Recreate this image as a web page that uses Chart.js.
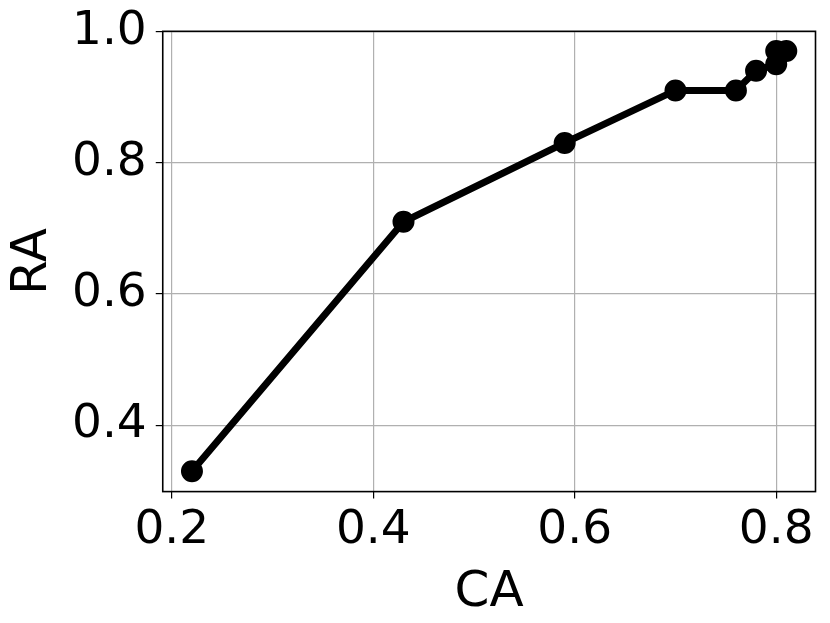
<!DOCTYPE html>
<html>
<head>
<meta charset="utf-8">
<script src="https://cdn.jsdelivr.net/npm/chart.js@4.4.0/dist/chart.umd.min.js"></script>
<style>
    html, body { margin: 0; padding: 0; background: #ffffff; }
    #wrap { width: 830px; height: 623px; }
</style>
</head>
<body>
<div id="wrap"><canvas id="chart" width="830" height="623"></canvas></div>
<script>
// values
const caValues = [0.22, 0.43, 0.59, 0.70, 0.76, 0.78, 0.80, 0.80, 0.81];
const raValues = [0.33, 0.71, 0.83, 0.91, 0.91, 0.94, 0.95, 0.97, 0.97];
const xTicks = [0.2, 0.4, 0.6, 0.8];
const yTicks = [0.4, 0.6, 0.8, 1.0];

const points = caValues.map(function (x, i) {
    return { x: x, y: raValues[i] };
});

// black frame round the plot area
const framePlugin = {
    id: 'frame',
    afterDraw: function (chart) {
        const a = chart.chartArea;
        const ctx = chart.ctx;
        ctx.save();
        ctx.strokeStyle = '#000000';
        ctx.lineWidth = 1.6;
        ctx.strokeRect(a.left, a.top, a.right - a.left, a.bottom - a.top);
        ctx.restore();
    }
};

const tickFont = { family: 'DejaVu Sans', size: 47 };
const yTickFont = { family: 'DejaVu Sans', size: 47, lineHeight: 0.95 };
const titleFont = { family: 'DejaVu Sans', size: 50 };

new Chart(document.getElementById('chart').getContext('2d'), {
    type: 'scatter',
    data: {
        datasets: [{
            data: points,
            showLine: true,
            borderColor: '#000000',
            backgroundColor: '#000000',
            borderWidth: 7,
            pointRadius: 7.5,
            pointHoverRadius: 7.5,
            tension: 0
        }]
    },
    options: {
        responsive: false,
        animation: false,
        layout: { padding: { left: -3, right: 14, top: 6, bottom: -7 } },
        plugins: {
            legend: { display: false },
            tooltip: { enabled: false }
        },
        scales: {
            x: {
                type: 'linear',
                min: 0.191,
                max: 0.839,
                afterBuildTicks: function (scale) {
                    scale.ticks = xTicks.map(function (v) { return { value: v }; });
                },
                ticks: {
                    color: '#000000',
                    font: tickFont,
                    padding: 4,
                    maxRotation: 0,
                    callback: function (v) { return v.toFixed(1); }
                },
                grid: { color: '#b0b0b0', lineWidth: 1.2, tickColor: '#000000', tickLength: 7 },
                border: { display: false },
                title: { display: true, text: 'CA', color: '#000000', font: titleFont, padding: { top: 0, bottom: 7 } }
            },
            y: {
                type: 'linear',
                min: 0.299,
                max: 1.0,
                afterBuildTicks: function (scale) {
                    scale.ticks = yTicks.map(function (v) { return { value: v }; });
                },
                ticks: {
                    color: '#000000',
                    font: yTickFont,
                    padding: 9,
                    callback: function (v) { return v.toFixed(1); }
                },
                grid: { color: '#b0b0b0', lineWidth: 1.2, tickColor: '#000000', tickLength: 7 },
                border: { display: false },
                title: { display: true, text: 'RA', color: '#000000', font: titleFont, padding: { top: 6, bottom: 0 } }
            }
        }
    },
    plugins: [framePlugin]
});
</script>
</body>
</html>
